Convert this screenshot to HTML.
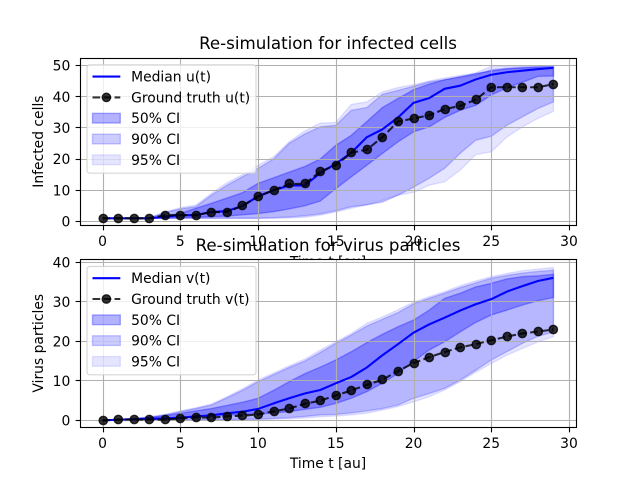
<!DOCTYPE html>
<html>
<head>
<meta charset="utf-8">
<title>Re-simulation chart</title>
<style>
html,body{margin:0;padding:0;background:#fff;}
svg{display:block;font-family:"DejaVu Sans","Liberation Sans",sans-serif;}
</style>
</head>
<body>
<svg id="figure" width="640" height="480" viewBox="0 0 640 480" xmlns="http://www.w3.org/2000/svg"></svg>
<script>
const timeSteps = [0,1,2,3,4,5,6,7,8,9,10,11,12,13,14,15,16,17,18,19,20,21,22,23,24,25,26,27,28,29];
const xTickLabels = [0,5,10,15,20,25,30];
const yTickLabelsU = [0,10,20,30,40,50];
const yTickLabelsV = [0,10,20,30,40];

const medianU = [1,1,1,1,1.5,2,2,3,3.3,5,8,10,11.5,11.5,15.5,18.5,22,27,29.5,33.3,38,39.5,42.5,43.5,45.5,47,47.8,48.3,48.8,49.2];
const truthU = [1,1,1,1,2,2,2,3,3,5,8,10,12,12,16,18,22,23,27,32,33,34,36,37,39,43,43,43,43,44];
const uLower50 = [1,1,1,1,1,1.2,1.3,1.5,1.7,2.1,2.5,3.1,4,5,6.5,10.5,14.3,18,21.8,25.5,28.7,30.3,33.3,35.6,37.2,40.5,42.8,44.6,46.5,46.6];
const uUpper50 = [1,1,1,1,1.7,2.6,4.2,5.8,7.5,9.2,12.2,14,15.8,17.6,20,24.4,27.6,32,36.5,39.4,42.2,44,45.4,46.3,47.4,48.2,48.9,49.2,49.4,49.5];
const uLower90 = [1,1,1,1,1,1,1,1,1,1,1,1.2,1.4,1.8,2.4,3.4,4.7,5.3,6.2,8.4,11,13.8,17,21.8,26,27.3,30.8,33.5,36.2,38.3];
const uUpper90 = [1,1,1,1.1,2.8,4,4.7,8.4,11.6,14.3,17,20,25,28,30.3,30.8,35.6,36.5,40.7,42,43.3,44.7,45.4,46.3,47,48.6,49.1,49.4,49.6,49.7];
const uLower95 = [1,1,1,1,1,1,1,1,1,1,1,1,1.1,1.3,2,3,4.2,5.3,6.8,8.4,9.3,11.6,12.7,16.4,21.4,22.3,27,30.3,33,35.3];
const uUpper95 = [1,1,1,1.2,3,4.4,5.2,9,12.4,15,18,20.7,25.5,29,31.5,31.7,37.5,38.3,41.5,42.9,43.8,45,46,46.8,47.6,49.7,49.8,49.8,49.9,49.9];

const medianV = [0,0.2,0.3,0.4,0.5,0.7,1,1.3,1.8,2.2,2.9,4.3,5.6,6.8,7.7,9.4,11,13.4,16.5,19.3,22.2,24.3,26,27.8,29.4,30.7,32.6,34,35.3,36.1];
const truthV = [0,0.2,0.2,0.2,0.2,0.5,0.7,0.7,1,1.2,1.5,2.3,3,4.2,5,6.3,7.6,9,10.3,12.5,14.5,16,17.3,18.5,19.3,20.3,21.2,22,22.5,23];
const vLower50 = [0,0.1,0.1,0.1,0.2,0.5,0.8,1,1.3,1.5,1.6,1.9,2.2,2.8,3.3,4.3,5.6,7.3,9.4,11.9,14.9,17.8,19.9,22.4,24.8,26.7,27.9,29.2,30.3,31.1];
const vUpper50 = [0,0.2,0.4,0.7,1.2,1.8,2.4,3,3.8,4.6,5.6,7.6,9.8,11.8,13.5,15.3,17.4,19.7,21.8,23.7,25.4,27.9,30.9,32.2,33.8,34.7,35.8,36.4,36.6,37];
const vLower90 = [0,0,0,0,0.1,0.1,0.1,0.2,0.2,0.3,0.3,0.5,0.7,1,1.4,1.5,1.9,2.4,3,3.9,5.6,6.8,8.1,10.2,12.7,15.3,17.4,19.5,21.3,22.4];
const vUpper90 = [0,0.2,0.5,0.8,1.4,2.2,3,3.9,5.7,7.6,9.8,11.6,13.4,15,17.2,19.5,21.6,23.9,25.6,27.3,29.5,30.9,32.2,33.6,34.8,36,36.7,37.3,37.7,38];
const vLower95 = [0,0,0,0,0,0,0.1,0.1,0.1,0.2,0.2,0.3,0.4,0.6,0.9,1.1,1.4,1.8,2.6,3.5,4.7,6,7.7,9.8,12.2,14.4,16.5,18.2,19.9,21.2];
const vUpper95 = [0,0.2,0.5,0.9,1.5,2.4,3.2,4.15,6,8,10.2,12,13.8,15.5,17.8,19.9,22,24.6,26.2,28,29.9,31.3,32.6,34.1,35.3,36.4,37.2,37.9,38.3,38.7];

const NS = 'http://www.w3.org/2000/svg';
const fig = document.getElementById('figure');
const LEFT = 80, RIGHT = 576, XMIN = -1.45, XMAX = 30.45;

function sx(v){ return LEFT + (v - XMIN) / (XMAX - XMIN) * (RIGHT - LEFT); }
function yScale(top, bottom, ymin, ymax){
  return function(v){ return bottom - (v - ymin) / (ymax - ymin) * (bottom - top); };
}
function snapX(p){ return Math.floor(p + 0.5) + 0.5; }
function snapY(p){ return Math.floor(p) + 0.5; }
function mk(tag, attrs, parent, txt){
  const el = document.createElementNS(NS, tag);
  for (const k in attrs) el.setAttribute(k, attrs[k]);
  if (txt !== undefined) el.textContent = txt;
  parent.appendChild(el);
  return el;
}
function label(el, name, active){
  
  
  return el;
}
function band(g, xs, lo, hi, op, y, name){
  const pts = [];
  xs.forEach(function(t, i){ pts.push(sx(t).toFixed(2) + ',' + y(hi[i]).toFixed(2)); });
  for (let i = xs.length - 1; i >= 0; i--) pts.push(sx(xs[i]).toFixed(2) + ',' + y(lo[i]).toFixed(2));
  const el = mk('polygon', {points: pts.join(' '), fill: '#0000ff', 'fill-opacity': op, stroke: '#0000ff', 'stroke-opacity': op, 'stroke-width': 1.39}, g);
  label(el, name, false);
}
function linePts(xs, ys, y){
  return xs.map(function(t, i){ return sx(t).toFixed(2) + ',' + y(ys[i]).toFixed(2); }).join(' ');
}

function drawAxes(c){
  const y = yScale(c.top, c.bottom, c.ymin, c.ymax);
  const g = mk('g', {}, fig);
  label(g, c.key + '-axes', false);
  const bg = mk('rect', {x: LEFT, y: c.top, width: RIGHT - LEFT, height: c.bottom - c.top, fill: '#fff'}, g);
  label(bg, c.key + '-plot-background', false);

  band(g, timeSteps, c.lo50, c.hi50, 0.3, y, c.key + '-band-50');
  band(g, timeSteps, c.lo90, c.hi90, 0.2, y, c.key + '-band-90');
  band(g, timeSteps, c.lo95, c.hi95, 0.1, y, c.key + '-band-95');

  const grid = mk('g', {stroke: '#b0b0b0', 'stroke-width': 1.11}, g);
  label(grid, c.key + '-grid', false);
  xTickLabels.forEach(function(t){
    const p = snapX(sx(t));
    const l = mk('line', {x1: p, x2: p, y1: c.frameTop, y2: c.frameBottom}, grid);
    label(l, c.key + '-grid-x-' + t, false);
  });
  c.yTicks.forEach(function(t){
    const p = snapY(y(t));
    const l = mk('line', {x1: LEFT + 0.5, x2: RIGHT + 0.5, y1: p, y2: p}, grid);
    label(l, c.key + '-grid-y-' + t, false);
  });

  const med = mk('polyline', {points: linePts(timeSteps, c.median, y), fill: 'none', stroke: '#0000ff', 'stroke-width': 2.08, 'stroke-linejoin': 'round'}, g);
  label(med, c.key + '-median-line', false);

  const truth = mk('polyline', {points: linePts(timeSteps, c.truth, y), fill: 'none', stroke: '#000', 'stroke-opacity': 0.8, 'stroke-width': 2.08, 'stroke-dasharray': '7.7 3.33'}, g);
  label(truth, c.key + '-truth-line', false);
  timeSteps.forEach(function(t, i){
    const m = mk('circle', {cx: snapX(sx(t)) - 0.2, cy: snapY(y(c.truth[i])), r: 4.17, fill: '#000', 'fill-opacity': 0.8, stroke: '#000', 'stroke-opacity': 0.8, 'stroke-width': 1.39}, g);
    label(m, c.key + '-truth-point-' + t, false);
  });

  const spines = mk('rect', {x: LEFT + 0.5, y: c.frameTop, width: RIGHT - LEFT, height: c.frameBottom - c.frameTop, fill: 'none', stroke: '#000', 'stroke-width': 1.11}, g);
  label(spines, c.key + '-axes-frame', false);

  xTickLabels.forEach(function(t){
    const p = snapX(sx(t));
    const tk = mk('line', {x1: p, x2: p, y1: c.frameBottom, y2: c.frameBottom + 4.86, stroke: '#000', 'stroke-width': 1.11}, g);
    label(tk, c.key + '-x-tick-' + t, false);
    const tl = mk('text', {x: sx(t).toFixed(2), y: c.xTickBaseline, 'font-size': 13.89, 'text-anchor': 'middle', fill: '#000'}, g, String(t));
    label(tl, c.key + '-x-tick-label-' + t, false);
  });
  c.yTicks.forEach(function(t){
    const p = snapY(y(t));
    const tk = mk('line', {x1: LEFT + 0.5 - 4.86, x2: LEFT + 0.5, y1: p, y2: p, stroke: '#000', 'stroke-width': 1.11}, g);
    label(tk, c.key + '-y-tick-' + t, false);
    const tl = mk('text', {x: 70.3, y: (y(t) + 5.2).toFixed(2), 'font-size': 13.89, 'text-anchor': 'end', fill: '#000'}, g, String(t));
    label(tl, c.key + '-y-tick-label-' + t, false);
  });

  const xl = mk('text', {x: 328, y: c.bottom + 41, 'font-size': 13.89, 'text-anchor': 'middle', fill: '#000'}, g, 'Time t [au]');
  label(xl, c.key + '-x-axis-title', false);
  const cy = (c.top + c.bottom) / 2;
  const yl = mk('text', {x: 43, y: cy, 'font-size': 13.89, 'text-anchor': 'middle', fill: '#000', transform: 'rotate(-90 43 ' + cy + ')'}, g, c.ylabel);
  label(yl, c.key + '-y-axis-title', false);

  const title = mk('text', {x: 328, y: c.titleBaseline, 'font-size': 16.67, 'text-anchor': 'middle', fill: '#000'}, g, c.title);
  label(title, c.key + '-chart-title', false);

  const lg = mk('g', {}, g);
  label(lg, c.key + '-legend', false);
  const lt = c.top + 7.2;
  const frame = mk('rect', {x: 87, y: lt, width: 169, height: 108.4, rx: 2.8, fill: '#fff', 'fill-opacity': 0.8, stroke: '#ccc', 'stroke-opacity': 0.8, 'stroke-width': 1.11}, lg);
  label(frame, c.key + '-legend-frame', false);
  const rows = [0, 1, 2, 3, 4].map(function(i){ return lt + 11.8 + i * 20.8; });
  const tx = 131.1, hx = 92.5, hw = 27.8;
  const l1 = mk('line', {x1: hx, x2: hx + hw, y1: rows[0], y2: rows[0], stroke: '#0000ff', 'stroke-width': 2.08}, lg);
  label(l1, c.key + '-legend-median-handle', false);
  const t1 = mk('text', {x: tx, y: rows[0] + 5, 'font-size': 13.89, fill: '#000'}, lg, 'Median ' + c.sym + '(t)');
  label(t1, c.key + '-legend-median-label', false);
  const l2 = mk('line', {x1: hx, x2: hx + hw, y1: rows[1], y2: rows[1], stroke: '#000', 'stroke-opacity': 0.8, 'stroke-width': 2.08, 'stroke-dasharray': '7.7 3.33'}, lg);
  label(l2, c.key + '-legend-truth-handle', false);
  const m2 = mk('circle', {cx: hx + hw / 2, cy: rows[1], r: 4.17, fill: '#000', 'fill-opacity': 0.8, stroke: '#000', 'stroke-opacity': 0.8, 'stroke-width': 1.39}, lg);
  label(m2, c.key + '-legend-truth-marker', false);
  const t2 = mk('text', {x: tx, y: rows[1] + 5, 'font-size': 13.89, fill: '#000'}, lg, 'Ground truth ' + c.sym + '(t)');
  label(t2, c.key + '-legend-truth-label', false);
  [['50', 0.3, 2], ['90', 0.2, 3], ['95', 0.1, 4]].forEach(function(e){
    const r = mk('rect', {x: hx, y: rows[e[2]] - 4.86, width: hw, height: 9.72, fill: '#0000ff', 'fill-opacity': e[1], stroke: '#0000ff', 'stroke-opacity': e[1], 'stroke-width': 1.39}, lg);
    label(r, c.key + '-legend-swatch-' + e[0], false);
    const t = mk('text', {x: tx, y: rows[e[2]] + 5, 'font-size': 13.89, fill: '#000'}, lg, e[0] + '% CI');
    label(t, c.key + '-legend-label-' + e[0], false);
  });
}

drawAxes({key: 'infected', title: 'Re-simulation for infected cells', ylabel: 'Infected cells', sym: 'u',
  top: 57.6, bottom: 225.6, frameTop: 58.5, frameBottom: 225.5, xTickBaseline: 246, titleBaseline: 49,
  ymin: -1.346, ymax: 52.5, yTicks: yTickLabelsU,
  median: medianU, truth: truthU, lo50: uLower50, hi50: uUpper50, lo90: uLower90, hi90: uUpper90, lo95: uLower95, hi95: uUpper95});
drawAxes({key: 'virus', title: 'Re-simulation for virus particles', ylabel: 'Virus particles', sym: 'v',
  top: 259.2, bottom: 427.2, frameTop: 259.5, frameBottom: 427.5, xTickBaseline: 448, titleBaseline: 251,
  ymin: -1.72, ymax: 40.81, yTicks: yTickLabelsV,
  median: medianV, truth: truthV, lo50: vLower50, hi50: vUpper50, lo90: vLower90, hi90: vUpper90, lo95: vLower95, hi95: vUpper95});
</script>
</body>
</html>
